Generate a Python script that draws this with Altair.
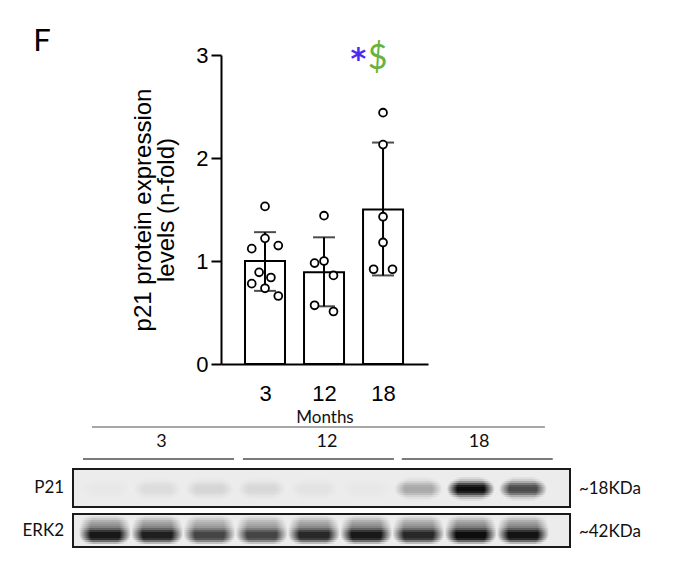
import json
import altair as alt
import pandas as pd

# ---------------- bar chart data ----------------
ages = ["3", "12", "18"]
group_pos = [1, 2, 3]
means = [1.00, 0.89, 1.50]
err_low = [0.71, 0.56, 0.86]
err_high = [1.28, 1.23, 2.15]

pts_3 = [1.53, 1.12, 1.22, 1.15, 0.89, 0.84, 0.78, 0.735, 0.66]
jit_3 = [0.0, -0.225, 0.0, 0.225, -0.1, 0.1, -0.225, 0.0, 0.225]
pts_12 = [1.44, 0.98, 1.00, 0.86, 0.57, 0.51]
jit_12 = [0.0, -0.16, 0.0, 0.16, -0.16, 0.16]
pts_18 = [2.44, 2.13, 1.43, 1.18, 0.92, 0.92]
jit_18 = [0.0, 0.0, 0.0, 0.0, -0.16, 0.16]

sig_marks = ["*", "$"]
sig_colors = ["#4b2bf2", "#6ab23e"]

# ---------------- western blot data ----------------
lanes = [1, 2, 3, 4, 5, 6, 7, 8, 9]
lane_age = ["3", "3", "3", "12", "12", "12", "18", "18", "18"]
p21_intensity = [0.02, 0.07, 0.10, 0.09, 0.04, 0.02, 0.30, 1.00, 0.72]
erk2_intensity = [0.95, 0.92, 0.75, 0.75, 0.88, 0.95, 0.88, 1.00, 0.97]
blot_rows = ["P21", "ERK2"]
kda_labels = ["~18KDa", "~42KDa"]

# ---------------- layout / style constants ----------------
X_DOMAIN = [0.339, 3.677]
SIG_X = [2.58, 2.91]
SIG_Y = 2.86
BX = alt.Scale(domain=[0.388, 9.9], range=[-148, 349], nice=False, zero=False)
BY = alt.Scale(domain=[420, 555], range=[365, 500], nice=False, zero=False)
BOX_Y = {"P21": (469, 507), "ERK2": (514, 547)}
# band drawing profile: top y, slice height, per-slice darkness and half-width (lanes)
BAND_STYLE = {
    "P21": {"top": 477, "h": 2,
            "dark": [0.08, 0.18, 0.40, 0.70, 0.92, 1.0, 1.0, 0.92, 0.70, 0.40, 0.18, 0.06],
            "half": [0.30, 0.35, 0.40, 0.43, 0.45, 0.46, 0.46, 0.45, 0.43, 0.40, 0.35, 0.30]},
    "ERK2": {"top": 516, "h": 2,
             "dark": [0.08, 0.18, 0.28, 0.36, 0.42, 0.50, 0.65, 0.85, 1.0, 1.0, 1.0, 0.9, 0.6, 0.25],
             "half": [0.40, 0.44, 0.46, 0.47, 0.48, 0.49, 0.50, 0.50, 0.50, 0.50, 0.49, 0.47, 0.44, 0.40]},
}
GROUP_SPANS = [(0.579, 3.47), (3.64, 6.53), (6.68, 9.57)]
GROUP_LABEL_X = [2.08, 5.25, 8.16]
TOP_SPAN = (0.75, 9.42)
BG = "#ececec"
LATO = "Lato"
ARIAL = "Liberation Sans"

# ---------------- bar chart ----------------
bar_df = pd.DataFrame({"g": group_pos, "age": ages, "mean": means,
                       "lo": err_low, "hi": err_high})
pt_rows = []
for g, vals, jit in zip(group_pos, [pts_3, pts_12, pts_18], [jit_3, jit_12, jit_18]):
    for v, j in zip(vals, jit):
        pt_rows.append({"px": g + j, "val": v})
pt_df = pd.DataFrame(pt_rows)

label_expr = json.dumps(ages) + "[datum.value - 1]"
xs = alt.Scale(domain=X_DOMAIN, nice=False, zero=False)
ys = alt.Scale(domain=[0, 3], nice=False)

x_axis = alt.Axis(values=group_pos, labelExpr=label_expr, ticks=False, grid=False,
                  domainWidth=2, domainColor="black", labelFont=ARIAL, labelFontSize=22,
                  labelColor="black", labelPadding=19, labelAngle=0,
                  title="Months", titleFont=LATO, titleFontSize=17,
                  titleFontWeight="normal", titleColor="#111", titlePadding=5)
y_axis = alt.Axis(values=[0, 1, 2, 3], format="d", grid=False, tickSize=10, tickWidth=2,
                  tickColor="black", domainWidth=2, domainColor="black",
                  labelFont=ARIAL, labelFontSize=22, labelColor="black", labelPadding=3,
                  title=["p21 protein expression", "levels (n-fold)"], titleFont=ARIAL,
                  titleFontSize=24, titleFontWeight="normal", titleColor="black",
                  titlePadding=17, titleLineHeight=23)

bars = alt.Chart(bar_df).mark_bar(size=40, fill="white", stroke="black", strokeWidth=2).encode(
    x=alt.X("g:Q", scale=xs, axis=x_axis),
    y=alt.Y("mean:Q", scale=ys, axis=y_axis),
    y2=alt.datum(0),
)
err = alt.Chart(bar_df).mark_rule(color="black", strokeWidth=2).encode(
    x=alt.X("g:Q", scale=xs), y=alt.Y("lo:Q", scale=ys), y2="hi:Q")
cap_lo = alt.Chart(bar_df).mark_tick(color="black", size=22, thickness=2, orient="horizontal").encode(
    x=alt.X("g:Q", scale=xs), y=alt.Y("lo:Q", scale=ys))
cap_hi = alt.Chart(bar_df).mark_tick(color="black", size=22, thickness=2, orient="horizontal").encode(
    x=alt.X("g:Q", scale=xs), y=alt.Y("hi:Q", scale=ys))
points = alt.Chart(pt_df).mark_point(shape="circle", filled=True, fill="white", stroke="black",
                                     strokeWidth=1.8, size=62, opacity=1).encode(
    x=alt.X("px:Q", scale=xs), y=alt.Y("val:Q", scale=ys))

star = alt.Chart(pd.DataFrame({"sx": [SIG_X[0]], "m": [sig_marks[0]], "v": [SIG_Y]})).mark_text(
    font="DejaVu Sans", fontSize=30, fontWeight="bold", baseline="alphabetic",
    color=sig_colors[0]).encode(
    x=alt.X("sx:Q", scale=xs), y=alt.Y("v:Q", scale=ys), text="m:N")
dollar = alt.Chart(pd.DataFrame({"sx": [SIG_X[1]], "m": [sig_marks[1]], "v": [SIG_Y]})).mark_text(
    font=LATO, fontSize=34, baseline="alphabetic", color=sig_colors[1]).encode(
    x=alt.X("sx:Q", scale=xs), y=alt.Y("v:Q", scale=ys), text="m:N")

bar_group = alt.layer(bars, err, cap_lo, cap_hi, points, star, dollar)

# ---------------- western blot ----------------
box_df = pd.DataFrame({"x": [BX.domain[0]] * 2, "x2": [BX.domain[1]] * 2,
                       "y": [BOX_Y[r][0] for r in blot_rows],
                       "y2": [BOX_Y[r][1] for r in blot_rows]})
boxes = alt.Chart(box_df).mark_rect(fill=BG, strokeWidth=0).encode(
    x=alt.X("x:Q", scale=BX, axis=None), x2="x2:Q",
    y=alt.Y("y:Q", scale=BY, axis=None), y2="y2:Q")
box_outline = alt.Chart(box_df).mark_rect(fillOpacity=0, stroke="#1a1a1a", strokeWidth=2).encode(
    x=alt.X("x:Q", scale=BX, axis=None), x2="x2:Q",
    y=alt.Y("y:Q", scale=BY, axis=None), y2="y2:Q")

hgrad = {"gradient": "linear", "x1": 0, "y1": 0, "x2": 1, "y2": 0,
         "stops": [{"offset": 0, "color": BG}, {"offset": 0.22, "color": "#0d0d0d"},
                   {"offset": 0.78, "color": "#0d0d0d"}, {"offset": 1, "color": BG}]}

band_layers = []
for row, intens in [("P21", p21_intensity), ("ERK2", erk2_intensity)]:
    st = BAND_STYLE[row]
    recs = []
    for lane, inten in zip(lanes, intens):
        for k, (d, hw) in enumerate(zip(st["dark"], st["half"])):
            y0 = st["top"] + k * st["h"]
            recs.append({"x": lane - hw, "x2": lane + hw, "y": y0, "y2": y0 + st["h"],
                         "op": min(1.0, inten * d)})
    df = pd.DataFrame(recs)
    band_layers.append(
        alt.Chart(df).mark_rect(fill=hgrad, strokeWidth=0).encode(
            x=alt.X("x:Q", scale=BX, axis=None), x2="x2:Q",
            y=alt.Y("y:Q", scale=BY, axis=None), y2="y2:Q",
            opacity=alt.Opacity("op:Q", scale=None)))

row_lab_df = pd.DataFrame({"x": [BX.domain[0] - 0.17] * 2,
                           "y": [sum(BOX_Y[r]) / 2 for r in blot_rows], "t": blot_rows})
row_labels = alt.Chart(row_lab_df).mark_text(font=LATO, fontSize=17, align="right",
                                              baseline="middle", color="#111").encode(
    x=alt.X("x:Q", scale=BX, axis=None), y=alt.Y("y:Q", scale=BY, axis=None), text="t:N")
kda_df = pd.DataFrame({"x": [BX.domain[1] + 0.17] * 2,
                       "y": [sum(BOX_Y[r]) / 2 + 1 for r in blot_rows], "t": kda_labels})
kda = alt.Chart(kda_df).mark_text(font=LATO, fontSize=17, align="left",
                                  baseline="middle", color="#111").encode(
    x=alt.X("x:Q", scale=BX, axis=None), y=alt.Y("y:Q", scale=BY, axis=None), text="t:N")

span_df = pd.DataFrame({"x": [s[0] for s in GROUP_SPANS], "x2": [s[1] for s in GROUP_SPANS],
                        "y": [459] * 3})
spans = alt.Chart(span_df).mark_rule(color="#7a7a7a", strokeWidth=2).encode(
    x=alt.X("x:Q", scale=BX, axis=None), x2="x2:Q", y=alt.Y("y:Q", scale=BY, axis=None))
top_df = pd.DataFrame({"x": [TOP_SPAN[0]], "x2": [TOP_SPAN[1]], "y": [427]})
top_line = alt.Chart(top_df).mark_rule(color="#8a8a8a", strokeWidth=1.5).encode(
    x=alt.X("x:Q", scale=BX, axis=None), x2="x2:Q", y=alt.Y("y:Q", scale=BY, axis=None))
glab_df = pd.DataFrame({"x": GROUP_LABEL_X, "y": [442] * 3, "t": ages})
glabels = alt.Chart(glab_df).mark_text(font=LATO, fontSize=18, baseline="middle",
                                       color="#111").encode(
    x=alt.X("x:Q", scale=BX, axis=None), y=alt.Y("y:Q", scale=BY, axis=None), text="t:N")

panel_df = pd.DataFrame({"t": ["F"]})
panel = alt.Chart(panel_df).mark_text(font=LATO, fontSize=31, baseline="middle",
                                      align="center", color="black").encode(
    x=alt.value(-179), y=alt.value(-13), text="t:N")

blot_group = alt.layer(boxes, *band_layers, box_outline,
                       row_labels, kda, spans, top_line, glabels, panel)

chart = alt.layer(bar_group, blot_group).resolve_scale(
    x="independent", y="independent"
).properties(
    width=207, height=309,
    autosize=alt.AutoSizeParams(type="none"),
    padding={"left": 213, "top": 47, "right": 240, "bottom": 190},
).configure_view(stroke=None)

chart.save("out.html", embed_options={"renderer": "svg", "actions": False})
